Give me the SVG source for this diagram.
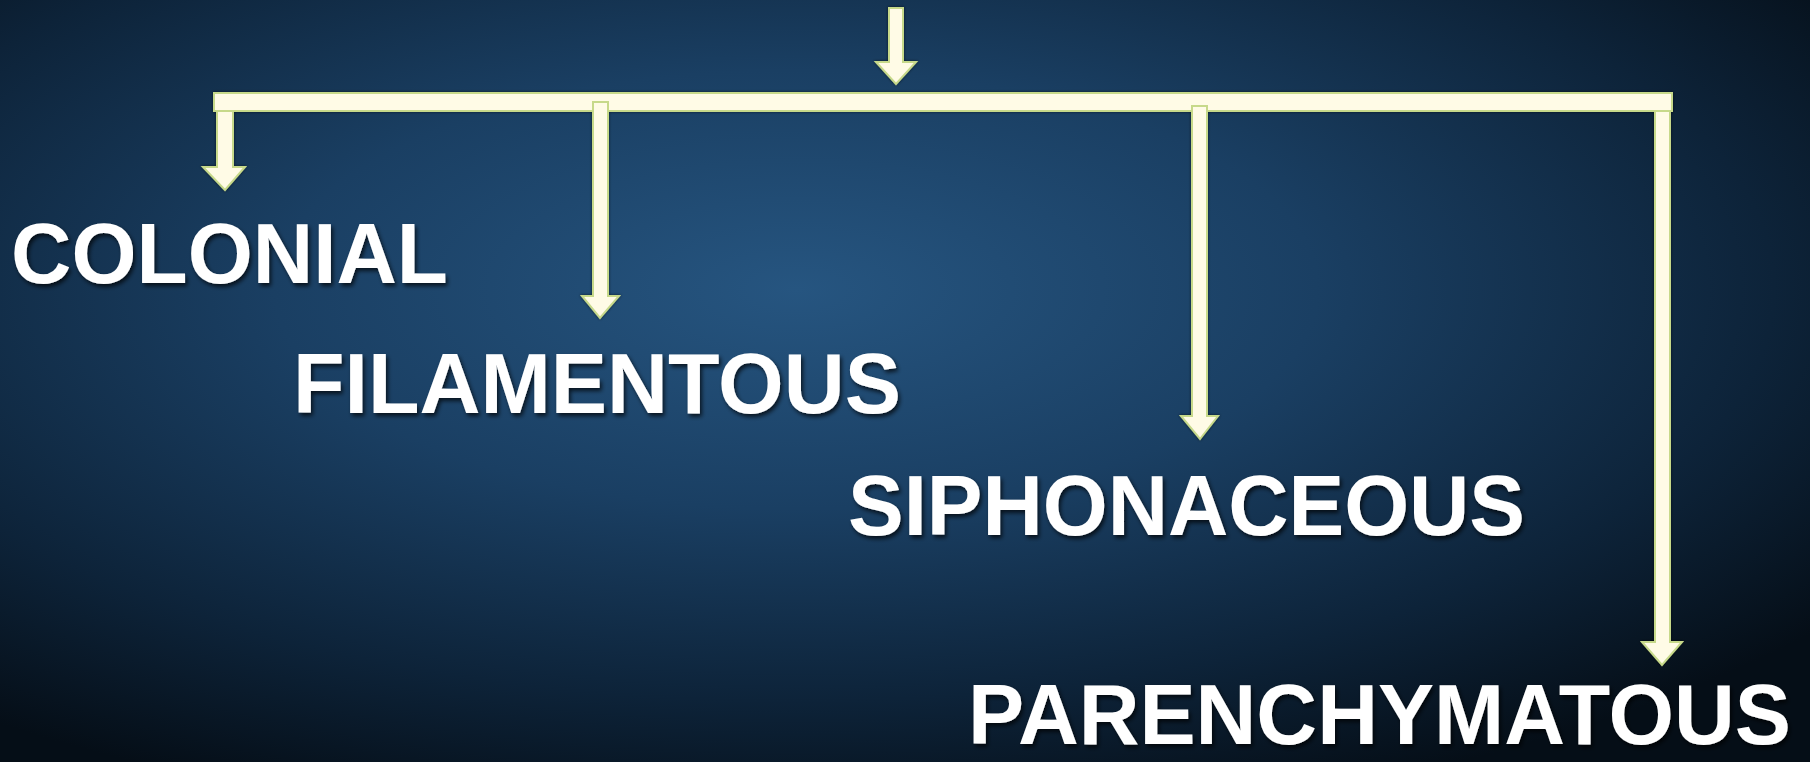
<svg xmlns="http://www.w3.org/2000/svg" width="1810" height="762" viewBox="0 0 1810 762">
<defs>
<radialGradient id="bg" cx="0.44" cy="0.38" r="0.72">
<stop offset="0" stop-color="#265580"/>
<stop offset="0.4" stop-color="#1a3f63"/>
<stop offset="0.75" stop-color="#0d2339"/>
<stop offset="1" stop-color="#050e17"/>
</radialGradient>
<filter id="sh" x="-5%" y="-10%" width="110%" height="120%">
<feDropShadow dx="2" dy="3" stdDeviation="2" flood-color="#000" flood-opacity="0.7"/>
</filter>
<filter id="glow" x="-5%" y="-5%" width="110%" height="110%">
<feDropShadow dx="0" dy="0" stdDeviation="1.5" flood-color="#000" flood-opacity="0.6"/>
</filter>
</defs>
<style>
.lbl{font-family:"Liberation Sans",Arial,sans-serif;font-weight:bold;font-size:86px;fill:#ffffff;filter:url(#sh)}
.arr{fill:#fffbe6;stroke:#c7d98a;stroke-width:2;stroke-linejoin:miter}
</style>
<rect x="0" y="0" width="1810" height="762" fill="url(#bg)"/>
<g id="connectors" filter="url(#glow)">
<path class="arr" d="M889,8 H903 V62 H916 L896,84 L876,62 H889 Z"/>
<path class="arr" d="M214,93 H1672 V111 H214 Z"/>
<path class="arr" d="M217,111 H233 V167 H245 L225,190 L203,167 H217 Z"/>
<path class="arr" d="M593,102 H608 V296 H619 L600,318 L582,296 H593 Z"/>
<path class="arr" d="M1192,106 H1207 V416 H1218 L1200,439 L1181,416 H1192 Z"/>
<path class="arr" d="M1655,111 H1670 V642 H1682 L1662,665 L1642,642 H1655 Z"/>
</g>
<g id="node-colonial"><text class="lbl" x="11" y="283" textLength="437" lengthAdjust="spacingAndGlyphs">COLONIAL</text></g>
<g id="node-filamentous"><text class="lbl" x="293" y="413" textLength="608" lengthAdjust="spacingAndGlyphs">FILAMENTOUS</text></g>
<g id="node-siphonaceous"><text class="lbl" x="848" y="535" textLength="677" lengthAdjust="spacingAndGlyphs">SIPHONACEOUS</text></g>
<g id="node-parenchymatous"><text class="lbl" x="968" y="744" textLength="823" lengthAdjust="spacingAndGlyphs">PARENCHYMATOUS</text></g>
</svg>
